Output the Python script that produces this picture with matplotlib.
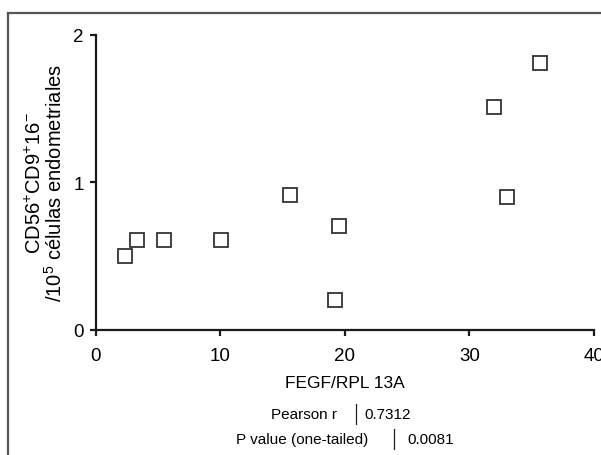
import matplotlib
matplotlib.use("Agg")
import matplotlib.pyplot as plt
from matplotlib.lines import Line2D

plt.rcParams['font.family'] = ['Liberation Sans', 'DejaVu Sans']
plt.rcParams['mathtext.fontset'] = 'custom'
plt.rcParams['mathtext.rm'] = 'Liberation Sans'
plt.rcParams['mathtext.it'] = 'Liberation Sans'
plt.rcParams['mathtext.default'] = 'regular'

# Data
fegf = [2.4, 3.3, 5.5, 10.1, 15.6, 19.5, 19.2, 32.0, 33.0, 35.7]
cd56 = [0.50, 0.61, 0.61, 0.61, 0.91, 0.70, 0.20, 1.51, 0.90, 1.81]
x_ticks = [0, 10, 20, 30, 40]
y_ticks = [0, 1, 2]
xlabel = "FEGF/RPL 13A"
ylabel = "CD56$^{+}$CD9$^{+}$16$^{-}$\n/10$^{5}$ células endometriales"
stat_left = ["Pearson r", "P value (one-tailed)"]
stat_right = ["0.7312", "0.0081"]

W, H = 601, 456
fig = plt.figure(figsize=(W / 100, H / 100), dpi=100)
ax = fig.add_axes([95.5 / W, 1 - 330.7 / H, (594 - 95.5) / W, (330.7 - 35.7) / H])

ax.plot(fegf, cd56, linestyle='none', marker='s', markersize=10,
        markerfacecolor='white', markeredgecolor='#333333', markeredgewidth=1.3,
        clip_on=False)

ax.set_xlim(0, 40)
ax.set_ylim(0, 2)
ax.set_xticks(x_ticks)
ax.set_yticks(y_ticks)
for s in ['top', 'right']:
    ax.spines[s].set_visible(False)
for s in ['left', 'bottom']:
    ax.spines[s].set_linewidth(1.6)
    ax.spines[s].set_color('#1a1a1a')
ax.tick_params(direction='out', length=4.5, width=1.6, color='#1a1a1a',
               labelsize=13.5)
ax.tick_params(axis='x', pad=8)
ax.tick_params(axis='y', pad=4)

ax.set_xlabel(xlabel, fontsize=12.5, labelpad=8)
ax.set_ylabel(ylabel, fontsize=14.5, labelpad=5, linespacing=0.95)

# statistics table lines: left text | right value
rows_y = [415, 440]
bar_x = [355.5, 393.5]
for lab, val, yy, bx in zip(stat_left, stat_right, rows_y, bar_x):
    gap_l = 18 if yy == rows_y[0] else 25
    gap_r = 9 if yy == rows_y[0] else 14
    fig.text((bx - gap_l) / W, 1 - yy / H, lab, ha='right', va='center', fontsize=11)
    fig.text((bx + gap_r) / W, 1 - yy / H, val, ha='left', va='center', fontsize=11)
    fig.add_artist(Line2D([bx / W, bx / W], [1 - (yy - 10) / H, 1 - (yy + 10) / H],
                          transform=fig.transFigure, color='#222222', linewidth=0.9))

# outer frame
fig.add_artist(Line2D([8 / W, 1.02], [1 - 14 / H, 1 - 14 / H], transform=fig.transFigure,
                      color='#555555', linewidth=1.6))
fig.add_artist(Line2D([8 / W, 8 / W], [1 - 14 / H, -0.02], transform=fig.transFigure,
                      color='#555555', linewidth=1.6))

fig.savefig("out.png", dpi=100)
